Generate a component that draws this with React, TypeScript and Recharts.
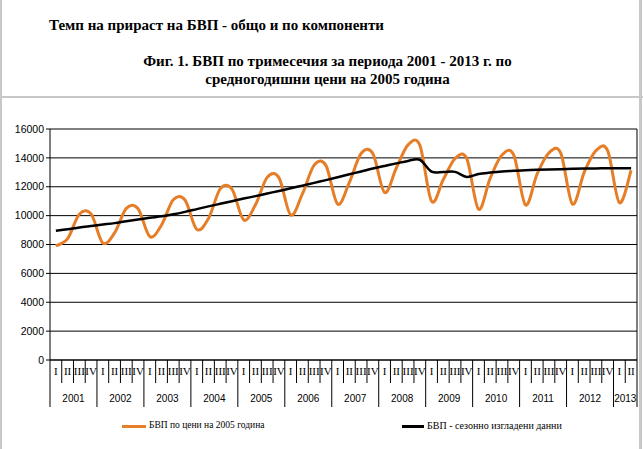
import { CartesianGrid, Line, LineChart, XAxis, YAxis } from "recharts";

const years = ["2001", "2002", "2003", "2004", "2005", "2006", "2007", "2008", "2009", "2010", "2011", "2012", "2013"];
const quarterNames = ["I", "II", "III", "IV"];

// БВП по цени на 2005 година (млн. лв.), 2001 Q1 .. 2013 Q2
const gdpValues = [
  7900, 8400, 10100, 10120,
  8100, 8800, 10500, 10480,
  8550, 9350, 11100, 11080,
  9050, 9800, 11850, 11830,
  9700, 10750, 12650, 12630,
  10050, 11500, 13500, 13480,
  10800, 12300, 14300, 14300,
  11600, 13300, 14900, 14880,
  11000, 12500, 13950, 13950,
  10450, 12600, 14200, 14200,
  10750, 12900, 14350, 14350,
  10800, 13000, 14500, 14500,
  10900, 13150,
];

// БВП - сезонно изгладени данни
const seasonalValues = [
  8950, 9060, 9180, 9280,
  9380, 9480, 9610, 9730,
  9850, 9950, 10090, 10260,
  10450, 10640, 10820, 11000,
  11180, 11350, 11530, 11710,
  11890, 12080, 12270, 12460,
  12660, 12860, 13060, 13260,
  13440, 13620, 13790, 13870,
  13050, 13020, 13030, 12680,
  12880, 12980, 13060, 13110,
  13140, 13170, 13190, 13210,
  13240, 13260, 13270, 13280,
  13280, 13280,
];

const yTicks = [0, 2000, 4000, 6000, 8000, 10000, 12000, 14000, 16000];

const rows = gdpValues.map((gdp, i) => ({
  key: years[Math.floor(i / 4)] + "-" + quarterNames[i % 4],
  year: years[Math.floor(i / 4)],
  quarter: quarterNames[i % 4],
  qIndex: i % 4,
  gdp,
  seasonal: seasonalValues[i],
}));

const serif = "'Liberation Serif', 'Times New Roman', serif";

// Excel-like smoothed line (Catmull-Rom through the points)
function excelSmooth(context: any) {
  let pts: number[][] = [];
  return {
    areaStart() {},
    areaEnd() {},
    lineStart() {
      pts = [];
    },
    point(x: number, y: number) {
      pts.push([+x, +y]);
    },
    lineEnd() {
      const n = pts.length;
      if (!n) return;
      context.moveTo(pts[0][0], pts[0][1]);
      for (let i = 0; i < n - 1; i++) {
        const p0 = pts[i - 1] || pts[i];
        const p1 = pts[i];
        const p2 = pts[i + 1];
        const p3 = pts[i + 2] || p2;
        context.bezierCurveTo(
          p1[0] + (p2[0] - p0[0]) / 6,
          p1[1] + (p2[1] - p0[1]) / 6,
          p2[0] - (p3[0] - p1[0]) / 6,
          p2[1] - (p3[1] - p1[1]) / 6,
          p2[0],
          p2[1]
        );
      }
    },
  };
}

function QuarterTick(props: any) {
  const { x, y, index, width, visibleTicksCount } = props;
  const row = rows[index];
  if (!row) return null;
  const band = width / visibleTicksCount;
  const inYear = rows.filter((r) => r.year === row.year).length;
  const isLast = index === rows.length - 1;
  return (
    <g>
      <line x1={x - band / 2} x2={x - band / 2} y1={y} y2={y + (row.qIndex === 0 ? 47 : 23)} stroke="#000" />
      <text x={x} y={y + 15} textAnchor="middle" fill="#000" fontFamily={serif} fontSize={11}>
        {row.quarter}
      </text>
      {row.qIndex === 0 ? (
        <text
          x={x + (band * (inYear - 1)) / 2}
          y={y + 42}
          textAnchor="middle"
          fill="#000"
          fontFamily="'Liberation Sans', sans-serif"
          fontSize={10}
        >
          {row.year}
        </text>
      ) : null}
      {isLast ? <line x1={x + band / 2} x2={x + band / 2} y1={y} y2={y + 47} stroke="#000" /> : null}
    </g>
  );
}

function App() {
  return (
    <div
      style={{
        position: "absolute",
        left: 0,
        top: 0,
        width: 643,
        height: 449,
        background: "#fff",
        fontFamily: serif,
        overflow: "hidden",
      }}
    >
      <div style={{ position: "absolute", left: 0, top: 0, width: 2, height: 449, background: "#c8c8c8" }} />
      <div style={{ position: "absolute", left: 639, top: 0, width: 3, height: 449, background: "#c8c8c8" }} />
      <div style={{ position: "absolute", left: 0, top: 96, width: 643, height: 2, background: "#c8c8c8" }} />

      <div style={{ position: "absolute", left: 49, top: 17, fontSize: 15, fontWeight: "bold", whiteSpace: "nowrap" }}>
        Темп на прираст на БВП - общо и по компоненти
      </div>
      <div
        style={{
          position: "absolute",
          left: 6,
          top: 52,
          width: 643,
          textAlign: "center",
          fontSize: 15,
          fontWeight: "bold",
          lineHeight: "18px",
        }}
      >
        Фиг. 1. БВП по тримесечия за периода 2001 - 2013 г. по
        <br />
        средногодишни цени на 2005 година
      </div>

      <div style={{ position: "absolute", left: 0, top: 0 }}>
        <LineChart width={643} height={449} data={rows} margin={{ top: 129, right: 0, bottom: 39, left: 0 }}>
          <CartesianGrid vertical={false} stroke="#000" yAxisId="l" />
          <XAxis
            dataKey="key"
            scale="band"
            interval={0}
            height={50}
            tickLine={false}
            tickSize={0}
            tickMargin={0}
            axisLine={{ stroke: "#000" }}
            tick={<QuarterTick />}
          />
          <YAxis
            yAxisId="l"
            width={50}
            domain={[0, 16000]}
            ticks={yTicks}
            interval={0}
            tickSize={4}
            tickLine={{ stroke: "#000" }}
            axisLine={{ stroke: "#000" }}
            tick={{ fill: "#000", fontSize: 10.5, fontFamily: "'Liberation Sans', sans-serif" }}
          />
          <YAxis
            yAxisId="r"
            orientation="right"
            width={6}
            domain={[0, 16000]}
            tick={false}
            tickLine={false}
            axisLine={{ stroke: "#000" }}
          />
          <Line
            yAxisId="l"
            dataKey="gdp"
            type={excelSmooth as any}
            stroke="#E67E28"
            strokeWidth={3}
            dot={false}
            isAnimationActive={false}
          />
          <Line
            yAxisId="l"
            dataKey="seasonal"
            type={excelSmooth as any}
            stroke="#000"
            strokeWidth={2.5}
            dot={false}
            isAnimationActive={false}
          />
        </LineChart>
      </div>

      <div style={{ position: "absolute", left: 122, top: 425, width: 24, height: 3, background: "#E67E28" }} />
      <div style={{ position: "absolute", left: 149, top: 420, fontSize: 9.5, fontFamily: serif, whiteSpace: "nowrap" }}>
        БВП по цени на 2005 година
      </div>
      <div style={{ position: "absolute", left: 402, top: 425, width: 22, height: 3, background: "#000" }} />
      <div style={{ position: "absolute", left: 427, top: 420, fontSize: 10, fontFamily: serif, whiteSpace: "nowrap" }}>
        БВП - сезонно изгладени данни
      </div>
    </div>
  );
}

export default App;
